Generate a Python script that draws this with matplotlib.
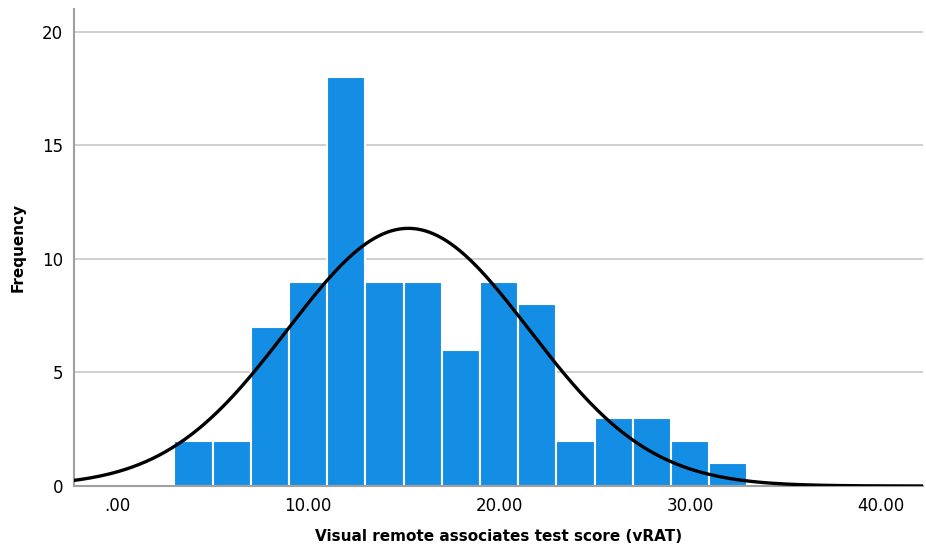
import numpy as np
import matplotlib
matplotlib.use("Agg")
import matplotlib.pyplot as plt

# histogram bins of the vRAT score (width 2) and their counts
bin_edges = [3, 5, 7, 9, 11, 13, 15, 17, 19, 21, 23, 25, 27, 29, 31, 33]
counts = [2, 2, 7, 9, 18, 9, 9, 6, 9, 8, 2, 3, 3, 2, 1]

# fitted normal curve parameters
mean_score = 15.25
sd_score = 6.33

x_ticks = [0, 10, 20, 30, 40]
x_tick_labels = [".00", "10.00", "20.00", "30.00", "40.00"]
y_ticks = [0, 5, 10, 15, 20]

bar_color = "#148ee5"

fig = plt.figure(figsize=(9.26, 5.47), dpi=100)
ax = fig.add_axes([0.080, 0.1115, 0.9168, 0.872])

# bars
edges = np.array(bin_edges, dtype=float)
widths = np.diff(edges)
ax.bar(edges[:-1], counts, width=widths, align="edge", color=bar_color,
       edgecolor="white", linewidth=1.5, zorder=2)

# normal curve scaled to counts
n_total = sum(counts)
bw = widths[0]
xs = np.linspace(-2.3, 42.3, 400)
ys = n_total * bw / (sd_score * np.sqrt(2 * np.pi)) * np.exp(-0.5 * ((xs - mean_score) / sd_score) ** 2)
ax.plot(xs, ys, color="black", linewidth=2.4, zorder=3)

# axes styling
ax.set_xlim(-2.25, 42.2)
ax.set_ylim(0, 21)
ax.set_xticks(x_ticks)
ax.set_xticklabels(x_tick_labels)
ax.set_yticks(y_ticks)
ax.tick_params(length=0, labelsize=12, pad=8)
ax.yaxis.grid(True, color="#c8c8c8", linewidth=1.2, zorder=0)
ax.set_axisbelow(True)
for side in ("top", "right"):
    ax.spines[side].set_visible(False)
for side in ("left", "bottom"):
    ax.spines[side].set_color("#a0a0a0")
    ax.spines[side].set_linewidth(1.5)

ax.set_xlabel("Visual remote associates test score (vRAT)", fontsize=11,
              fontweight="bold", labelpad=10)
ax.set_ylabel("Frequency", fontsize=11, fontweight="bold", labelpad=12)

fig.savefig("out.png", dpi=100)
